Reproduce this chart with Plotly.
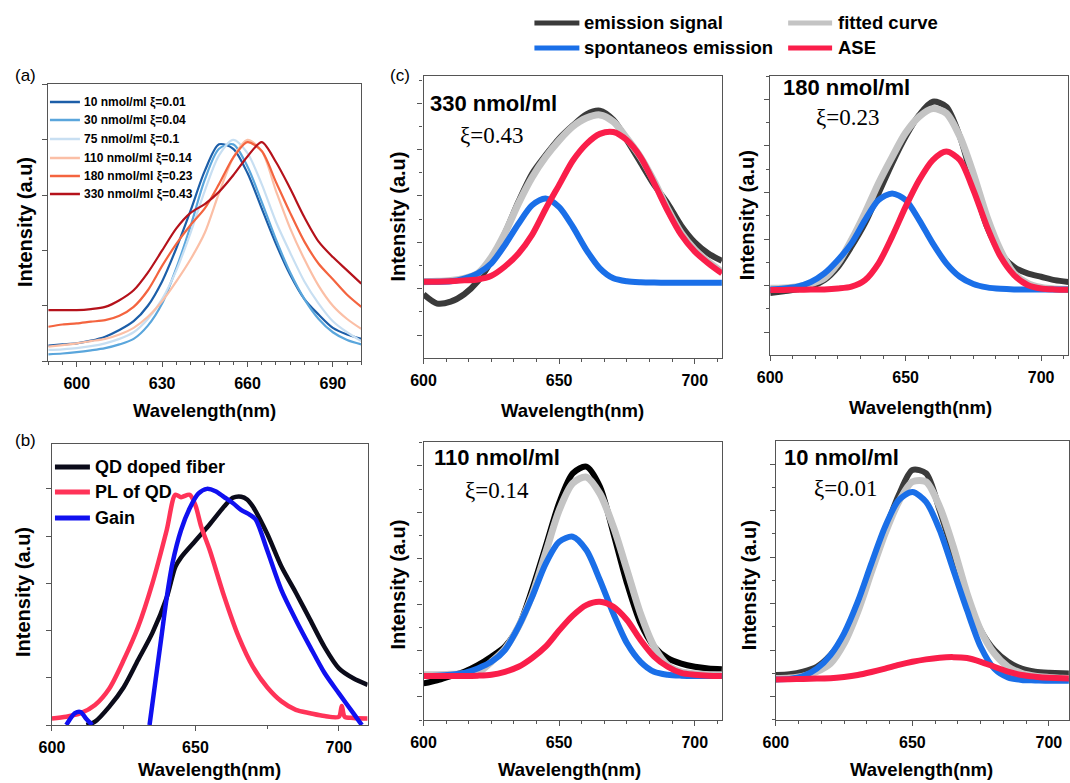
import plotly.graph_objects as go

W, H = 1070, 783

# ---------------- data ----------------
# panel (a): normalised spectra vs concentration
wl_a = [590, 595, 600, 605, 610, 615, 620, 625, 630, 635, 640, 645,
        650, 655, 660, 665, 670, 675, 680, 685, 690, 695, 700]
a_10 = [0.07, 0.075, 0.08, 0.092, 0.11, 0.14, 0.18, 0.25, 0.36, 0.51, 0.68, 0.86,
        0.98, 0.96, 0.85, 0.69, 0.53, 0.39, 0.28, 0.21, 0.15, 0.12, 0.10]
a_30 = [0.03, 0.034, 0.04, 0.048, 0.058, 0.075, 0.10, 0.16, 0.26, 0.42, 0.61, 0.82,
        0.96, 0.98, 0.88, 0.72, 0.55, 0.40, 0.28, 0.19, 0.13, 0.095, 0.075]
a_75 = [0.05, 0.053, 0.058, 0.067, 0.08, 0.10, 0.13, 0.19, 0.28, 0.41, 0.58, 0.77,
        0.93, 1.0, 0.94, 0.80, 0.63, 0.49, 0.36, 0.26, 0.18, 0.13, 0.09]
a_110 = [0.065, 0.072, 0.08, 0.09, 0.10, 0.12, 0.15, 0.20, 0.27, 0.36, 0.46, 0.58,
         0.76, 0.92, 1.0, 0.95, 0.77, 0.60, 0.46, 0.34, 0.25, 0.19, 0.145]
a_180 = [0.155, 0.165, 0.17, 0.178, 0.185, 0.205, 0.245, 0.32, 0.43, 0.53, 0.615, 0.69,
         0.80, 0.92, 0.99, 0.95, 0.81, 0.67, 0.54, 0.44, 0.37, 0.30, 0.245]
a_330 = [0.23, 0.23, 0.23, 0.235, 0.245, 0.275, 0.32, 0.40, 0.50, 0.60, 0.67, 0.71,
         0.765, 0.84, 0.925, 0.99, 0.90, 0.78, 0.65, 0.54, 0.47, 0.41, 0.35]
names_a = ["10 nmol/ml ξ=0.01", "30 nmol/ml ξ=0.04", "75 nmol/ml ξ=0.1",
           "110 nmol/ml ξ=0.14", "180 nmol/ml ξ=0.23", "330 nmol/ml ξ=0.43"]
colors_a = ["#1c5ea8", "#5aa6dc", "#c8dff2", "#fbbfa6", "#f4643f", "#b5121b"]

# panel (b)
wl_b_fiber = [612, 615, 620, 625, 630, 635, 640, 643, 645, 650, 655, 660, 663, 666,
              668, 670, 675, 680, 685, 690, 695, 700, 705, 710]
b_fiber = [0.0, 0.014, 0.078, 0.16, 0.275, 0.39, 0.54, 0.67, 0.71, 0.78, 0.85, 0.925,
           0.962, 0.967, 0.955, 0.925, 0.81, 0.67, 0.56, 0.445, 0.33, 0.24, 0.198, 0.17]
wl_b_pl = [600, 605, 610, 615, 620, 625, 630, 635, 640, 643, 645, 648, 650, 652, 655,
           660, 665, 670, 675, 680, 685, 690, 695, 700, 701, 702, 705, 710]
b_pl = [0.028, 0.035, 0.05, 0.085, 0.155, 0.275, 0.415, 0.60, 0.826, 0.975, 0.965,
        0.975, 0.93, 0.84, 0.74, 0.545, 0.375, 0.247, 0.16, 0.10, 0.064, 0.05, 0.038,
        0.035, 0.08, 0.035, 0.03, 0.028]
wl_b_gain = [605, 608, 610, 612, 614, None, 634, 636, 638, 640, 642, 645, 648, 651,
             654, 657, 660, 663, 666, 669, 671, 675, 680, 685, 690, 695, 700, 705, 708]
b_gain = [0.0, 0.05, 0.055, 0.025, 0.0, None, 0.0, 0.18, 0.36, 0.54, 0.685, 0.826,
          0.918, 0.98, 1.0, 0.99, 0.965, 0.94, 0.91, 0.89, 0.87, 0.74, 0.57, 0.445,
          0.33, 0.22, 0.134, 0.05, 0.0]
names_b = ["QD doped fiber", "PL of QD", "Gain"]
colors_b = ["#0b0b1a", "#ff3358", "#1010f0"]

# panel (c): emission signal, fitted curve, spontaneous emission, ASE
wl_c = [600, 605, 610, 615, 620, 625, 630, 635, 640, 645, 650, 655,
        660, 665, 670, 675, 680, 685, 690, 695, 700, 705, 710]
c330_em = [-0.03, -0.08, -0.07, -0.03, 0.04, 0.15, 0.30, 0.47, 0.62, 0.72, 0.81, 0.88,
           0.94, 0.96, 0.91, 0.80, 0.68, 0.56, 0.46, 0.34, 0.25, 0.19, 0.15]
c330_fit = [0.038, 0.04, 0.045, 0.056, 0.083, 0.17, 0.30, 0.46, 0.60, 0.71, 0.80, 0.874,
            0.92, 0.937, 0.90, 0.81, 0.71, 0.58, 0.43, 0.30, 0.21, 0.145, 0.09]
c330_sp = [0.038, 0.038, 0.04, 0.055, 0.083, 0.137, 0.236, 0.35, 0.45, 0.487, 0.44, 0.335,
           0.21, 0.11, 0.056, 0.04, 0.035, 0.033, 0.032, 0.032, 0.032, 0.032, 0.032]
c330_ase = [0.038, 0.038, 0.04, 0.045, 0.05, 0.07, 0.12, 0.19, 0.29, 0.43, 0.56, 0.69,
            0.78, 0.835, 0.845, 0.80, 0.71, 0.57, 0.42, 0.29, 0.20, 0.137, 0.083]

c180_em = [-0.04, -0.03, -0.02, -0.005, 0.03, 0.10, 0.21, 0.335, 0.495, 0.656, 0.80, 0.916,
           0.987, 0.96, 0.80, 0.55, 0.317, 0.174, 0.10, 0.066, 0.048, 0.03, 0.02]
c180_fit = [-0.014, -0.012, -0.005, 0.01, 0.04, 0.12, 0.245, 0.39, 0.55, 0.69, 0.82, 0.907,
            0.95, 0.925, 0.80, 0.60, 0.37, 0.19, 0.066, 0.012, -0.01, -0.018, -0.02]
c180_sp = [-0.02, -0.015, -0.005, 0.02, 0.066, 0.138, 0.227, 0.352, 0.46, 0.495, 0.46, 0.352,
           0.227, 0.12, 0.048, 0.009, -0.009, -0.017, -0.02, -0.02, -0.02, -0.02, -0.02]
c180_ase = [-0.023, -0.023, -0.022, -0.021, -0.02, -0.015, -0.005, 0.03, 0.12, 0.263, 0.424, 0.567,
            0.674, 0.72, 0.674, 0.513, 0.317, 0.156, 0.057, 0.004, -0.015, -0.02, -0.022]

c110_em = [-0.177, -0.16, -0.137, -0.114, -0.078, -0.032, 0.022, 0.13, 0.33, 0.563, 0.80, 0.96,
           0.996, 0.888, 0.635, 0.365, 0.148, 0.022, -0.04, -0.07, -0.087, -0.096, -0.10]
c110_fit = [-0.13, -0.13, -0.128, -0.125, -0.12, -0.06, 0.01, 0.13, 0.30, 0.53, 0.76, 0.906,
            0.94, 0.85, 0.67, 0.437, 0.20, 0.022, -0.078, -0.114, -0.125, -0.13, -0.13]
c110_sp = [-0.137, -0.135, -0.13, -0.12, -0.096, -0.06, 0.004, 0.13, 0.29, 0.47, 0.59, 0.617,
           0.545, 0.383, 0.20, 0.04, -0.06, -0.114, -0.13, -0.135, -0.137, -0.137, -0.137]
c110_ase = [-0.137, -0.137, -0.137, -0.137, -0.135, -0.13, -0.114, -0.087, -0.04, 0.022, 0.11, 0.19,
            0.247, 0.265, 0.238, 0.166, 0.058, -0.032, -0.087, -0.12, -0.13, -0.135, -0.137]

c10_em = [-0.134, -0.13, -0.116, -0.09, -0.027, 0.072, 0.233, 0.44, 0.645, 0.833, 0.968, 0.95,
          0.75, 0.52, 0.287, 0.107, 0.0, -0.063, -0.10, -0.116, -0.122, -0.125, -0.126]
c10_fit = [-0.153, -0.15, -0.14, -0.116, -0.072, 0.036, 0.206, 0.42, 0.627, 0.797, 0.905, 0.905,
           0.77, 0.555, 0.305, 0.107, -0.018, -0.09, -0.125, -0.14, -0.147, -0.152, -0.153]
c10_sp = [-0.158, -0.155, -0.14, -0.10, -0.027, 0.09, 0.26, 0.466, 0.663, 0.806, 0.85, 0.797,
          0.645, 0.43, 0.215, 0.018, -0.10, -0.147, -0.161, -0.163, -0.165, -0.165, -0.165]
c10_ase = [-0.158, -0.157, -0.155, -0.153, -0.152, -0.145, -0.134, -0.118, -0.10, -0.08, -0.063, -0.05,
           -0.041, -0.038, -0.043, -0.063, -0.09, -0.116, -0.134, -0.143, -0.149, -0.152, -0.153]

c_labels = ["330 nmol/ml", "180 nmol/ml", "110 nmol/ml", "10 nmol/ml"]
c_xi = ["ξ=0.43", "ξ=0.23", "ξ=0.14", "ξ=0.01"]
c_names = ["emission signal", "fitted curve", "spontaneos emission", "ASE"]
c_colors = ["#3a3a3a", "#c4c4c4", "#1a6fe8", "#fa1e4a"]
c_widths = [6, 7, 6, 6]

# ---------------- layout geometry (pixels) ----------------
panels = [
    dict(x0=48.3, x1=361.7, y0=84, y1=361, xr=[590, 700], yr=[0, 1.253],
         xdt=30, xmin=5, ydt=0.25, ymin=None),
    dict(x0=52, x1=368, y0=444, y1=725, xr=[600, 710], yr=[0, 1.19],
         xdt=50, xmin=25, ydt=0.2, ymin=None),
    dict(x0=424, x1=722.7, y0=76, y1=357.7, xr=[600, 710], yr=[-0.372, 1.147],
         xdt=50, xmin=50 / 6, ydt=0.25, ymin=0.125),
    dict(x0=771, x1=1069.4, y0=76, y1=355, xr=[600, 710], yr=[-0.372, 1.125],
         xdt=50, xmin=50 / 6, ydt=0.25, ymin=0.125),
    dict(x0=424, x1=722.7, y0=442.3, y1=720, xr=[600, 710], yr=[-0.375, 1.128],
         xdt=50, xmin=50 / 6, ydt=0.25, ymin=0.125),
    dict(x0=776.7, x1=1070, y0=441, y1=720, xr=[600, 707.3], yr=[-0.376, 1.124],
         xdt=50, xmin=50 / 6, ydt=0.25, ymin=0.125),
]

AX = "#555555"
TICKFONT = dict(family="Liberation Sans", size=16, color="black", weight="bold")


def PX(t):
    """horizontal pixel -> paper fraction (small calibration for the page)"""
    return min(max((t - 13.0) / 0.988 / W, 0.0), 1.0)


def PY(t):
    return 1 - t / H


def key(kind, n):
    return f"{kind}axis" if n == 1 else f"{kind}axis{n}"


def ref(kind, n):
    return kind if n == 1 else f"{kind}{n}"


layout = dict(width=W, height=H, autosize=False,
              margin=dict(l=0, r=0, t=0, b=0, pad=0),
              paper_bgcolor="white", plot_bgcolor="white",
              showlegend=False)

for i, p in enumerate(panels, start=1):
    xd = [PX(p["x0"]), PX(p["x1"])]
    yd = [PY(p["y1"]), PY(p["y0"])]
    xminor = dict(dtick=p["xmin"], tick0=600,
                  ticks="outside", ticklen=3, tickwidth=1, tickcolor=AX)
    layout[key("x", i)] = dict(
        domain=xd, range=p["xr"], anchor=ref("y", i), showline=True, mirror=True,
        linecolor=AX, linewidth=1.2, ticks="outside", ticklen=5, tickwidth=1.2,
        tickcolor=AX, tickmode="linear", tick0=600, dtick=p["xdt"],
        minor=xminor, showgrid=False, zeroline=False, tickfont=TICKFONT,
        ticklabelstandoff=3)
    ydict = dict(
        domain=yd, range=p["yr"], anchor=ref("x", i), showline=True, mirror=True,
        linecolor=AX, linewidth=1.2, ticks="outside", ticklen=5, tickwidth=1.2,
        tickcolor=AX, tickmode="linear", tick0=0, dtick=p["ydt"],
        showticklabels=False, showgrid=False, zeroline=False)
    if p["ymin"]:
        ydict["minor"] = dict(dtick=p["ymin"], tick0=0, ticks="outside", ticklen=3,
                              tickwidth=1, tickcolor=AX)
    layout[key("y", i)] = ydict
    # overlay axes giving inward ticks on the top and right edges
    j = i + 6
    tminor = dict(xminor)
    tminor["ticks"] = "inside"
    layout[key("x", j)] = dict(
        overlaying=ref("x", i), side="top", anchor=ref("y", i), range=p["xr"],
        showline=False, ticks="inside", ticklen=5, tickwidth=1.2, tickcolor=AX,
        tickmode="linear", tick0=600, dtick=p["xdt"], minor=tminor,
        showticklabels=False, showgrid=False, zeroline=False)
    rdict = dict(
        overlaying=ref("y", i), side="right", anchor=ref("x", i), range=p["yr"],
        showline=False, ticks="inside", ticklen=5, tickwidth=1.2, tickcolor=AX,
        tickmode="linear", tick0=0, dtick=p["ydt"],
        showticklabels=False, showgrid=False, zeroline=False)
    if p["ymin"]:
        rdict["minor"] = dict(dtick=p["ymin"], tick0=0, ticks="inside", ticklen=3,
                              tickwidth=1, tickcolor=AX)
    layout[key("y", j)] = rdict

fig = go.Figure(layout=layout)


def add(n, x, y, color, width, name):
    fig.add_trace(go.Scatter(
        x=x, y=y, mode="lines", name=name, xaxis=ref("x", n), yaxis=ref("y", n),
        line=dict(color=color, width=width, shape="spline", smoothing=0.8),
        connectgaps=False, showlegend=False, hoverinfo="skip"))


# (a)
for ys, nm, col in zip([a_10, a_30, a_75, a_110, a_180, a_330], names_a, colors_a):
    add(1, wl_a, ys, col, 2.2, nm)

# (b)
add(2, wl_b_fiber, b_fiber, colors_b[0], 4.5, names_b[0])
add(2, wl_b_pl, b_pl, colors_b[1], 4.5, names_b[1])
add(2, wl_b_gain, b_gain, colors_b[2], 4.5, names_b[2])

# (c)
c_sets = [
    (c330_em, c330_fit, c330_sp, c330_ase),
    (c180_em, c180_fit, c180_sp, c180_ase),
    (c110_em, c110_fit, c110_sp, c110_ase),
    (c10_em, c10_fit, c10_sp, c10_ase),
]
for k, sets in enumerate(c_sets):
    n = k + 3
    for s, (ys, nm, col, w) in enumerate(zip(sets, c_names, c_colors, c_widths)):
        if s == 0 and k == 2:
            col = "#000000"
        add(n, wl_c, ys, col, w, nm)

# ---------------- text and legend decorations ----------------
ann = []
shapes = []


def text(x, y, s, size, anchor="left", bold=True, angle=0, family="Liberation Sans",
         color="black"):
    ann.append(dict(x=PX(x), y=PY(y), xref="paper", yref="paper",
                    text=f"<b>{s}</b>" if bold else s, showarrow=False,
                    xanchor=anchor, yanchor="middle", textangle=angle,
                    font=dict(family=family, size=size, color=color)))


def swatch(x0, x1, y, color, width):
    shapes.append(dict(type="line", xref="paper", yref="paper",
                       x0=PX(x0), x1=PX(x1), y0=PY(y), y1=PY(y),
                       line=dict(color=color, width=width)))


# top legend
top_rows = [(23, 0, 1), (48, 2, 3)]
for y, a, b in top_rows:
    swatch(535, 580, y, c_colors[a], 5)
    text(583, y, c_names[a], 18.5)
    swatch(789, 833, y, c_colors[b], 5)
    text(837, y, c_names[b], 18.5)

# (a) legend
for y, nm, col in zip([102, 120, 139, 158, 176, 194], names_a, colors_a):
    swatch(50, 80, y, col, 2.5)
    text(82, y, nm, 12)

# (b) legend
for y, nm, col in zip([467, 492, 518], names_b, colors_b):
    swatch(55, 90, y, col, 5)
    text(93, y, nm, 18)

# panel letters
text(8, 75, "(a)", 17, bold=False)
text(8, 440, "(b)", 17, bold=False)
text(388, 75, "(c)", 17, bold=False)

# axis titles
for (cx, cy) in [(205, 410), (210, 769), (573, 410), (921, 408), (570, 769), (922, 769)]:
    text(cx, cy, "Wavelength(nm)", 18.5, anchor="center")
for (cx, cy) in [(25, 222), (23, 592), (398, 217), (748, 215), (398, 585), (750, 585)]:
    text(cx, cy, "Intensity (a.u)", 20, anchor="center", angle=-90)

# (c) panel labels
lab_pos = [(428, 103, 458, 135), (782, 88, 815, 118), (432, 457, 463, 490), (783, 457, 813, 488)]
for (lx, ly, xx, xy), lab, xi in zip(lab_pos, c_labels, c_xi):
    text(lx, ly, lab, 22)
    text(xx, xy, xi, 23, bold=False, family="Liberation Serif")

fig.update_layout(annotations=ann, shapes=shapes)
fig.write_html("out.html", config={"displayModeBar": False},
               post_script="document.body.style.margin='0';document.body.style.overflow='hidden';")
